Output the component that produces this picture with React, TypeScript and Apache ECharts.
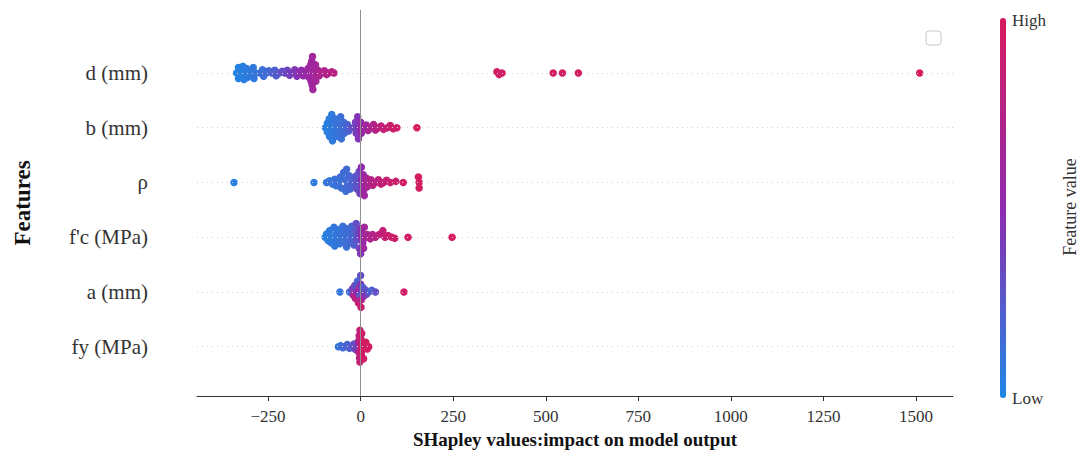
import React, { useEffect, useRef } from "react";
import * as echarts from "echarts";

// Feature names, bottom row first (row index = position on the y axis)
const features = ["fy (MPa)", "a (mm)", "f'c (MPa)", "ρ", "b (mm)", "d (mm)"];
const xTicks = [-250, 0, 250, 500, 750, 1000, 1250, 1500];

// Each point: [SHAP value, vertical jitter (in rows), normalised feature value 0..1]
const dPoints = [
  [-335, 0, 0.02], [-330, 0.1, 0.03], [-330, -0.1, 0.03], [-325, 0.05, 0.04], [-322, -0.05, 0.05],
  [-318, 0.12, 0.05], [-315, -0.12, 0.05], [-312, 0, 0.06], [-308, 0.08, 0.07], [-305, -0.08, 0.07],
  [-300, 0.03, 0.08], [-296, -0.03, 0.08], [-290, 0.1, 0.09], [-288, -0.1, 0.09], [-284, 0, 0.1],
  [-272, 0, 0.12], [-265, 0.06, 0.13], [-262, -0.06, 0.13], [-255, 0, 0.15], [-248, 0.04, 0.17],
  [-240, 0, 0.2], [-232, 0.05, 0.22], [-228, -0.05, 0.23], [-220, 0, 0.27], [-212, 0.03, 0.3],
  [-205, 0, 0.33], [-198, 0.05, 0.36], [-192, -0.04, 0.38], [-185, 0, 0.41], [-178, 0.06, 0.44],
  [-172, -0.06, 0.46], [-166, 0, 0.49], [-160, 0.05, 0.52], [-155, -0.05, 0.54],
  [-148, 0, 0.56], [-142, 0.08, 0.58], [-140, -0.08, 0.58], [-135, 0.15, 0.6], [-134, -0.15, 0.6],
  [-132, 0.22, 0.61], [-131, -0.22, 0.61], [-130, 0.3, 0.62], [-129, -0.3, 0.62], [-128, 0, 0.63],
  [-126, 0.08, 0.63], [-125, -0.08, 0.64], [-122, 0.15, 0.64], [-121, -0.15, 0.65], [-118, 0, 0.66],
  [-115, 0.05, 0.67], [-112, -0.05, 0.68],
  [-105, 0, 0.7], [-98, 0.04, 0.72], [-92, -0.03, 0.73], [-86, 0, 0.75], [-78, 0.02, 0.77], [-72, 0, 0.78],
  [368, 0.02, 0.95], [374, -0.03, 0.95], [382, 0, 0.96], [520, 0, 0.97], [545, 0, 0.97], [588, 0, 0.98], [1510, 0, 1],
];

const bPoints = [
  [-95, 0, 0.05], [-90, 0.08, 0.05], [-90, -0.08, 0.06], [-85, 0.16, 0.06], [-84, -0.16, 0.07],
  [-80, 0, 0.07], [-78, 0.24, 0.08], [-76, -0.24, 0.08], [-74, 0.08, 0.09], [-72, -0.08, 0.09],
  [-68, 0.16, 0.1], [-66, -0.16, 0.1], [-64, 0, 0.11], [-60, 0.08, 0.12], [-58, -0.08, 0.12],
  [-54, 0.2, 0.13], [-52, -0.2, 0.13], [-50, 0, 0.14], [-46, 0.1, 0.15], [-44, -0.1, 0.15],
  [-40, 0, 0.16], [-36, 0.06, 0.2], [-32, -0.06, 0.22], [-28, 0, 0.25],
  [-18, 0, 0.35], [-14, 0.1, 0.4], [-12, -0.1, 0.4], [-8, 0.2, 0.45], [-6, -0.2, 0.45],
  [-4, 0, 0.5], [0, 0.1, 0.52], [2, -0.1, 0.55], [5, 0, 0.58],
  [15, 0.05, 0.62], [20, -0.05, 0.65], [28, 0, 0.7], [35, 0.06, 0.74], [40, -0.04, 0.76],
  [48, 0, 0.8], [55, 0.03, 0.83], [62, -0.03, 0.85], [72, 0, 0.88], [80, 0.04, 0.9],
  [88, -0.02, 0.92], [98, 0, 0.94], [152, 0, 0.98],
];

const rhoPoints = [
  [-342, 0, 0.05], [-126, 0, 0.08], [-92, 0, 0.1], [-84, 0.03, 0.1], [-76, -0.03, 0.12],
  [-70, 0.06, 0.12], [-66, -0.06, 0.12], [-60, 0, 0.13], [-55, 0.1, 0.14], [-52, -0.1, 0.14],
  [-46, 0.18, 0.15], [-42, 0.05, 0.15], [-40, -0.16, 0.15], [-38, 0.24, 0.16], [-35, -0.05, 0.17],
  [-30, 0.12, 0.18], [-28, -0.12, 0.18], [-24, 0, 0.2], [-20, 0.06, 0.22], [-16, -0.06, 0.24],
  [-12, 0.12, 0.28], [-10, -0.12, 0.3], [-8, 0, 0.3], [-4, 0.2, 0.35], [-2, -0.2, 0.38],
  [2, 0.28, 0.5], [3, 0.06, 0.5], [5, -0.06, 0.55], [7, 0.14, 0.58], [8, -0.14, 0.58],
  [10, -0.24, 0.6], [12, 0, 0.62], [15, 0.08, 0.65], [18, -0.08, 0.68], [22, 0, 0.7],
  [28, 0.05, 0.75], [33, -0.05, 0.78], [40, 0, 0.8], [48, 0.05, 0.82], [55, -0.03, 0.84],
  [62, 0, 0.86], [70, 0.04, 0.88], [80, 0, 0.9], [95, 0.02, 0.92], [115, 0, 0.95],
  [156, 0.1, 0.97], [158, 0, 0.98], [158, -0.1, 0.98],
];

const fcPoints = [
  [-96, 0, 0.05], [-92, 0.06, 0.05], [-88, -0.06, 0.06], [-84, 0.12, 0.07], [-80, -0.1, 0.07],
  [-76, 0, 0.08], [-72, 0.18, 0.08], [-70, -0.16, 0.09], [-66, 0.06, 0.1], [-63, -0.06, 0.1],
  [-60, 0.14, 0.1], [-56, -0.12, 0.11], [-52, 0, 0.12], [-48, 0.2, 0.12], [-46, 0.08, 0.13],
  [-44, -0.08, 0.13], [-40, 0.16, 0.14], [-38, -0.18, 0.14], [-34, 0, 0.15], [-30, 0.1, 0.16],
  [-27, -0.1, 0.17], [-24, 0.2, 0.18], [-22, 0, 0.2], [-18, -0.14, 0.22], [-15, 0.12, 0.25],
  [-12, 0.25, 0.3], [-10, -0.05, 0.3], [-6, 0.06, 0.35], [-4, -0.2, 0.4], [-2, 0.16, 0.42],
  [0, -0.3, 0.45], [2, 0, 0.5], [4, 0.08, 0.55], [6, -0.1, 0.55], [8, -0.2, 0.6],
  [10, 0.18, 0.62], [14, 0, 0.65], [18, 0.05, 0.68], [26, -0.03, 0.72], [32, 0.05, 0.75],
  [40, 0, 0.78], [50, 0.05, 0.82], [60, 0.12, 0.86], [66, 0, 0.88], [74, 0.03, 0.9],
  [84, 0, 0.92], [92, -0.02, 0.93], [128, 0, 0.96], [247, 0, 1],
];

const aPoints = [
  [-56, 0, 0.1], [-30, 0, 0.15], [-22, 0.06, 0.4], [-20, -0.06, 0.7], [-16, 0.12, 0.3],
  [-14, -0.12, 0.8], [-10, 0, 0.5], [-8, 0.2, 0.2], [-6, -0.2, 0.85], [-4, 0.06, 0.6],
  [-2, -0.06, 0.25], [0, 0.3, 0.3], [0, 0.14, 0.45], [1, -0.28, 0.9], [2, -0.14, 0.75],
  [4, 0, 0.35], [6, 0.08, 0.2], [8, -0.08, 0.55], [12, 0.04, 0.3], [16, -0.04, 0.4],
  [22, 0, 0.25], [30, 0.03, 0.2], [40, 0, 0.3], [117, 0, 0.95],
];

const fyPoints = [
  [-60, 0, 0.1], [-54, 0.02, 0.12], [-48, -0.02, 0.15], [-42, 0, 0.18], [-36, 0.04, 0.2],
  [-30, -0.03, 0.22], [-24, 0, 0.25], [-18, 0.05, 0.3], [-14, -0.05, 0.35], [-10, 0, 0.4],
  [-6, 0.1, 0.7], [-5, -0.1, 0.75], [-4, 0.2, 0.8], [-3, -0.2, 0.8], [-2, 0.3, 0.85],
  [-2, -0.28, 0.85], [0, 0, 0.88], [1, 0.14, 0.9], [2, -0.14, 0.9], [3, 0.24, 0.92],
  [4, 0.06, 0.92], [5, -0.06, 0.95], [8, -0.22, 0.95], [10, 0, 0.95], [14, 0.08, 0.97],
  [18, -0.04, 0.97], [22, 0, 0.98],
];

const pointsByRow = [fyPoints, aPoints, fcPoints, rhoPoints, bPoints, dPoints];

const SERIF = "'Liberation Serif', 'Times New Roman', serif";

export default function App() {
  const ref = useRef<HTMLDivElement>(null);

  useEffect(() => {
    if (!ref.current) return;
    const chart = echarts.init(ref.current, null, { renderer: "svg" });

    const series: any[] = pointsByRow.map((pts, row) => ({
      type: "scatter",
      name: features[row],
      symbolSize: 7.5,
      itemStyle: { opacity: 1 },
      data: pts.map((p) => [p[0], row + p[1], p[2]]),
      z: 3,
    }));

    // reference lines: dotted row guides + zero line
    series.push({
      type: "scatter",
      data: [],
      silent: true,
      markLine: {
        silent: true,
        symbol: "none",
        label: { show: false },
        animation: false,
        data: [
          ...features.map((_, row) => ({
            yAxis: row,
            lineStyle: { color: "#d0d0d0", width: 1, type: [1, 4] },
          })),
          { xAxis: 0, lineStyle: { color: "#909090", width: 1, type: "solid" } },
        ],
      },
      z: 1,
    });

    chart.setOption({
      animation: false,
      backgroundColor: "#ffffff",
      textStyle: { fontFamily: SERIF },
      grid: {
        left: 197,
        right: 130,
        top: 10,
        bottom: 65,
        containLabel: false,
        outerBoundsMode: "none",
      },
      xAxis: {
        type: "value",
        min: -442,
        max: 1600,
        name: "SHapley values:impact on model output",
        nameLocation: "middle",
        nameGap: 32,
        nameTextStyle: { fontFamily: SERIF, fontWeight: "bold", fontSize: 19, color: "#111" },
        axisLine: { show: true, onZero: false, lineStyle: { color: "#333", width: 1 } },
        axisTick: { show: true, length: 5, customValues: xTicks, lineStyle: { color: "#333" } },
        axisLabel: {
          customValues: xTicks,
          fontFamily: SERIF,
          fontSize: 17,
          color: "#333",
          margin: 12,
          formatter: (v: number) => (v < 0 ? "\u2212" + Math.abs(v) : String(v)),
        },
        splitLine: { show: false },
      },
      yAxis: {
        type: "value",
        min: -0.9,
        max: 6.15,
        name: "Features",
        nameLocation: "middle",
        nameGap: 163,
        nameRotate: 90,
        nameTextStyle: { fontFamily: SERIF, fontWeight: "bold", fontSize: 23, color: "#111" },
        axisLine: { show: false, onZero: false },
        axisTick: { show: false },
        splitLine: { show: false },
        axisLabel: {
          customValues: [0, 1, 2, 3, 4, 5],
          fontFamily: SERIF,
          fontSize: 21,
          color: "#333",
          margin: 49,
          formatter: (v: number) => features[Math.round(v)] ?? "",
        },
      },
      visualMap: {
        type: "continuous",
        min: 0,
        max: 1,
        dimension: 2,
        seriesIndex: [0, 1, 2, 3, 4, 5],
        orient: "vertical",
        left: 1000,
        top: 18,
        itemWidth: 6,
        itemHeight: 380,
        padding: 0,
        calculable: false,
        text: null,
        showLabel: false,
        inRange: { color: ["#1E88E5", "#8E2BB0", "#D81B5E"] },
      },
      graphic: [
        {
          type: "text",
          left: 1012,
          top: 12,
          style: { text: "High", font: `17px ${SERIF}`, fill: "#333" },
        },
        {
          type: "text",
          left: 1012,
          top: 390,
          style: { text: "Low", font: `17px ${SERIF}`, fill: "#333" },
        },
        {
          type: "text",
          x: 1070,
          y: 207,
          rotation: Math.PI / 2,
          style: {
            text: "Feature value",
            font: `18px ${SERIF}`,
            fill: "#333",
            align: "center",
            verticalAlign: "middle",
          },
        },
        {
          type: "rect",
          shape: { x: 926, y: 31, width: 15, height: 14, r: 3 },
          style: { fill: "#fff", stroke: "#c8c8c8", lineWidth: 1 },
        },
      ],
      series,
    });

    return () => chart.dispose();
  }, []);

  return (
    <div
      ref={ref}
      style={{ position: "fixed", left: 0, top: 0, width: 1083, height: 461, background: "#fff" }}
    />
  );
}
